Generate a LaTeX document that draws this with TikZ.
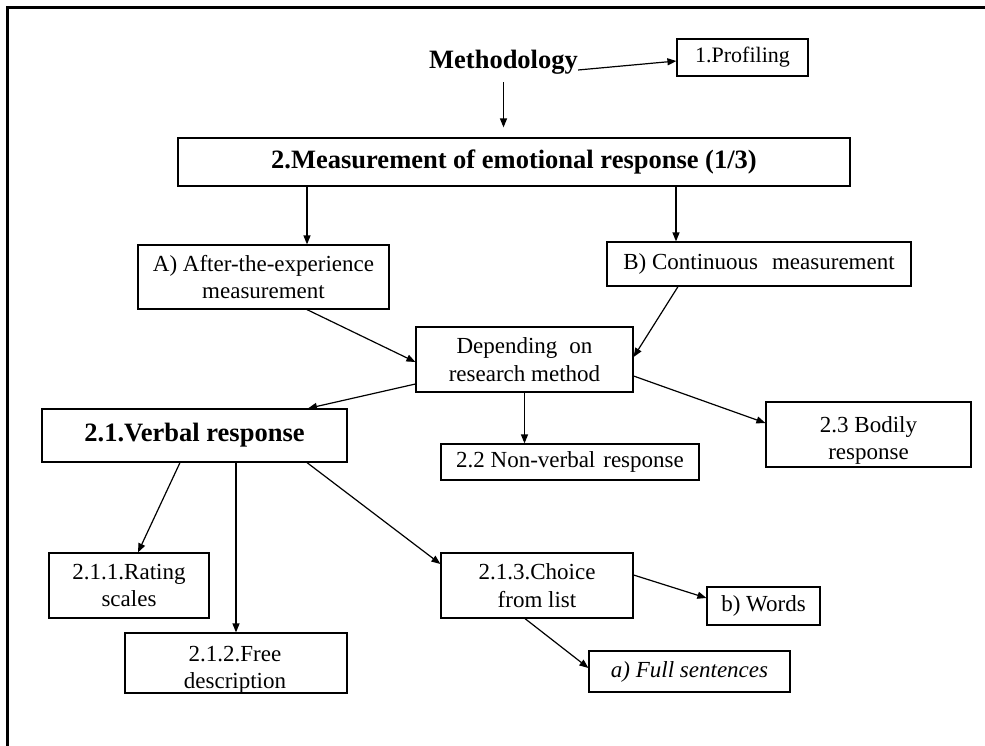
\documentclass[tikz,border=0pt]{standalone}
\usepackage{fontspec}
\setmainfont{Liberation Serif}
\usetikzlibrary{arrows.meta,calc}
\begin{document}
\begin{tikzpicture}[x=1pt,y=-1pt,
  box/.style={draw, line width=1.2pt, inner sep=0pt, align=center,
    font=\fontsize{23}{27.5}\selectfont},
  plain/.style={inner sep=0pt, align=center, font=\fontsize{23}{27.5}\selectfont},
  bold/.style={font=\fontsize{26.5}{31}\selectfont\bfseries},
  arr/.style={line width=1.2pt, -{Triangle[length=9pt,width=7pt]}}]
\useasboundingbox (0,0) rectangle (985,745);
% outer frame (top and left edges)
\begin{scope}
\clip (0,0) rectangle (985,745);
\draw[line width=3pt] (995,7.5) -- (7.2,7.5) -- (7.2,755);
\end{scope}

% nodes
\node[bold, inner sep=0pt, anchor=base] (meth) at (503.5,68.5) {Methodology};
\node[box, minimum width=131pt, minimum height=37pt,
      font=\fontsize{22}{26}\selectfont] (prof) at (742.5,57.5) {1.Profiling};
\node[box, bold, minimum width=672pt, minimum height=48pt] (main) at (514,162)
  {2.Measurement of emotional response (1/3)};
\node[box, minimum width=251pt, minimum height=64pt] (A) at (263.5,277)
  {A) After-the-experience\\measurement};
\node[box, minimum width=304pt, minimum height=44pt] (B) at (759,264)
  {B) Continuous\hspace{14pt}measurement};
\node[box, minimum width=217pt, minimum height=65pt] (dep) at (524.5,359.5)
  {Depending\hspace{12pt}on\\research method};
\node[box, bold, minimum width=305pt, minimum height=53pt] (verbal) at (194.5,435.5)
  {2.1.Verbal response};
\node[box, minimum width=258pt, minimum height=36pt] (nonverb) at (570,462)
  {2.2 Non-verbal\hspace{8pt}response};
\node[box, minimum width=205pt, minimum height=65pt] (bodily) at (868.5,434.5) {};
\node[plain] (bodilytext) at (868.5,440.5) {2.3 Bodily\\response};
\node[box, minimum width=160pt, minimum height=65pt] (rating) at (129,585.5)
  {2.1.1.Rating\\scales};
\node[box, minimum width=222pt, minimum height=60pt] (free) at (236,663) {};
\node[plain] (freetext) at (235,670) {2.1.2.Free\\description};
\node[box, minimum width=192pt, minimum height=65pt] (choice) at (537,585.5)
  {2.1.3.Choice\\from list};
\node[box, minimum width=113pt, minimum height=38pt] (words) at (763.5,606)
  {b) Words};
\node[box, minimum width=201pt, minimum height=41pt] (full) at (689.5,671.5)
  {\itshape a) Full sentences};

% connectors
\draw[arr] ([yshift=-1.5pt]meth.base east) -- ([yshift=-3.5pt]prof.west);
\draw[arr] ([yshift=-13.5pt]meth.base) -- ($(meth.base |- main.north)+(0,-10)$);
\draw[arr] ($(A.north |- main.south)+(43.5,0)$) -- ([xshift=43.5pt]A.north);
\draw[arr] ($(B.north |- main.south)+(-83,0)$) -- ([xshift=-83pt]B.north);
\draw[arr] ([xshift=43.5pt]A.south) -- ([yshift=-2.5pt]dep.west);
\draw[arr] ([xshift=-81pt]B.south) -- ([yshift=2.5pt]dep.east);
\draw[arr] ([yshift=-24.5pt]dep.west) -- ([xshift=113.5pt]verbal.north);
\draw[arr] (dep.south) -- (dep.south |- nonverb.north);
\draw[arr] ([yshift=-16.5pt]dep.east) -- ([yshift=11.5pt]bodily.west);
\draw[arr] ([xshift=-14.5pt]verbal.south) -- ([xshift=9pt]rating.north);
\draw[arr] (free.north |- verbal.south) -- (free.north);
\draw[arr] ([xshift=112.5pt]verbal.south) -- ([yshift=21.5pt]choice.west);
\draw[arr] ([yshift=10.5pt]choice.east) -- ([yshift=8pt]words.west);
\draw[arr] ([xshift=-12pt]choice.south) -- ([yshift=3.5pt]full.west);
\end{tikzpicture}
\end{document}
